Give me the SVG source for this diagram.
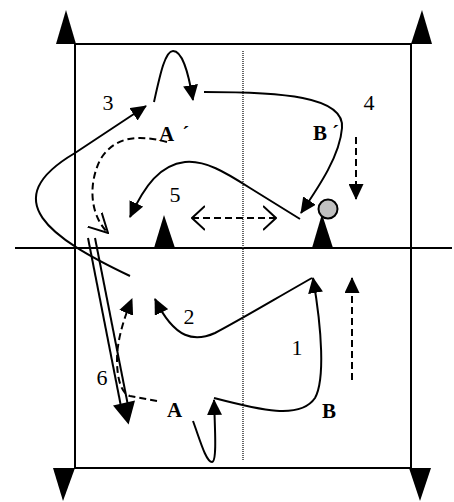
<svg xmlns="http://www.w3.org/2000/svg" width="454" height="502" viewBox="0 0 454 502">
<style>
.ln{fill:none;stroke:#000;stroke-width:2}
.ds{fill:none;stroke:#000;stroke-width:2;stroke-dasharray:7,4}
.tri{fill:#000}
.num{font-family:"Liberation Serif",serif;font-size:22px;fill:#000;text-anchor:middle}
.lab{font-family:"Liberation Serif",serif;font-size:21px;font-weight:bold;fill:#000}
</style>
<defs>
<marker id="fa" viewBox="0 0 16 15" refX="15" refY="7.5" markerWidth="16" markerHeight="15" markerUnits="userSpaceOnUse" orient="auto"><path d="M0,0 L16,7.5 L0,15 z" fill="#000"/></marker>
<marker id="oa" viewBox="0 0 20 22" refX="19" refY="11" markerWidth="20" markerHeight="22" markerUnits="userSpaceOnUse" orient="auto"><path d="M0,1 L19,11 L0,21" fill="none" stroke="#000" stroke-width="2"/></marker>
<marker id="ob" viewBox="0 0 14 26" refX="13" refY="13" markerWidth="14" markerHeight="26" markerUnits="userSpaceOnUse" orient="auto"><path d="M0,1 L13,13 L0,25" fill="none" stroke="#000" stroke-width="2"/></marker>
<marker id="obs" viewBox="0 0 14 26" refX="1" refY="13" markerWidth="14" markerHeight="26" markerUnits="userSpaceOnUse" orient="auto"><path d="M14,1 L1,13 L14,25" fill="none" stroke="#000" stroke-width="2"/></marker>
</defs>

<g id="field">
<rect x="75" y="44" width="336" height="424" fill="none" stroke="#000" stroke-width="2"/>
<line x1="15" y1="248" x2="452" y2="248" stroke="#000" stroke-width="2"/>
<line x1="243" y1="51" x2="243" y2="460" stroke="#333" stroke-width="1.5" stroke-dasharray="1,1"/>
</g>

<g id="corner-tl"><polygon class="tri" points="56,44 76,44 66,10"/></g>
<g id="corner-tr"><polygon class="tri" points="411,44 432,44 422,10"/></g>
<g id="corner-bl"><polygon class="tri" points="53,468 75,468 63,501"/></g>
<g id="corner-br"><polygon class="tri" points="409,468 431,468 420,501"/></g>
<g id="cone-left"><polygon class="tri" points="154,248 175,248 164,215"/></g>
<g id="cone-right"><polygon class="tri" points="312,248 333,248 322,214"/></g>
<g id="ball"><circle cx="328" cy="209" r="9.5" fill="#c0c0c0" stroke="#000" stroke-width="2"/></g>

<g id="connectors">
<path class="ln" d="M130,276 C50,238 -5,200 75,153 L146,106" marker-end="url(#fa)"/>
<path class="ln" d="M154,102 C160,75 165,51 173,51 C182,51 188,70 193,100" marker-end="url(#fa)"/>
<path class="ln" d="M204,92 C280,92 345,96 342,128 C340,155 320,185 301,213" marker-end="url(#fa)"/>
<path class="ln" d="M300,219 L250,188 C225,172 205,160 185,162 C160,165 145,185 130,217" marker-end="url(#fa)"/>
<path class="ds" d="M167,142 C140,135 115,135 100,160 C88,185 90,215 108,233" marker-end="url(#oa)"/>
<line class="ds" x1="192" y1="218" x2="276" y2="218" marker-start="url(#obs)" marker-end="url(#ob)"/>
<line class="ds" x1="356" y1="137" x2="356" y2="199" marker-end="url(#fa)"/>
<line class="ln" x1="88" y1="238" x2="120.5" y2="404"/>
<line class="ln" x1="95" y1="238" x2="127.5" y2="403"/>
<polygon class="tri" points="113,405.5 135,400.5 128.6,424.5"/>
<path class="ds" d="M157,401 L130,396 C122,394 117,380 117,360 C117,340 124,318 132,299" marker-end="url(#fa)"/>
<path class="ln" d="M312,278 C280,296 240,320 215,333 C195,342 175,340 155,299" marker-end="url(#fa)"/>
<path class="ln" d="M193,421 C200,440 206,462 212,462 C217,462 215,430 214,400" marker-end="url(#fa)"/>
<path class="ln" d="M214,398 C260,410 300,420 315,398 C325,380 322,330 313,278" marker-end="url(#fa)"/>
<line class="ds" x1="352" y1="380" x2="352" y2="278" marker-end="url(#fa)"/>
</g>

<g id="labels">
<text class="num" x="108" y="110">3</text>
<text class="num" x="369" y="110">4</text>
<text class="num" x="175" y="202">5</text>
<text class="num" x="189" y="324">2</text>
<text class="num" x="297" y="355">1</text>
<text class="num" x="102" y="385">6</text>
<text class="lab" x="159" y="141">A<tspan dx="8">´</tspan></text>
<text class="lab" x="313" y="140">B<tspan dx="5">´</tspan></text>
<text class="lab" x="167" y="417">A</text>
<text class="lab" x="322" y="418">B</text>
</g>
</svg>
